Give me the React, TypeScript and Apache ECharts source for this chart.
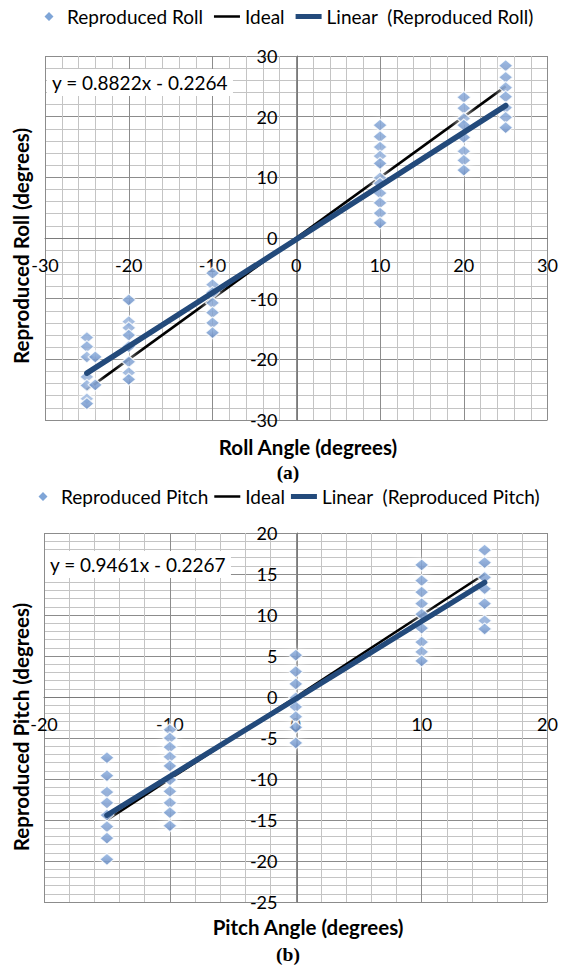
import React, { useEffect, useRef } from "react";
import * as echarts from "echarts";

// ---- Roll data (Reproduced Roll vs Roll Angle) ----
const rollX = [
  -25, -25, -25, -25, -25, -25, -25,
  -24, -24,
  -20, -20, -20, -20, -20, -20, -20, -20,
  -10, -10, -10, -10, -10, -10, -10,
  10, 10, 10, 10, 10, 10, 10, 10, 10, 10, 10,
  20, 20, 20, 20, 20, 20, 20, 20,
  25, 25, 25, 25, 25, 25, 25,
];
const rollY = [
  -16.4, -17.9, -19.6, -22.9, -24.3, -26.5, -27.3,
  -19.6, -24.2,
  -10.2, -13.8, -14.8, -16.0, -17.9, -20.4, -22.2, -23.3,
  -5.8, -7.7, -9.0, -10.7, -12.3, -14.0, -15.6,
  18.6, 16.7, 15.0, 13.5, 12.3, 9.9, 9.0, 7.4, 5.8, 4.1, 2.5,
  23.2, 21.4, 19.7, 18.6, 16.6, 14.3, 12.8, 11.2,
  28.4, 26.5, 24.8, 23.3, 21.5, 19.9, 18.2,
];
const rollSlope = 0.8822;
const rollIntercept = -0.2264;
const rollIdealRange = [-25, 25];

// ---- Pitch data (Reproduced Pitch vs Pitch Angle) ----
const pitchX = [
  -15, -15, -15, -15, -15, -15, -15, -15,
  -10, -10, -10, -10, -10, -10, -10, -10, -10, -10,
  0, 0, 0, 0, 0, 0, 0, 0,
  10, 10, 10, 10, 10, 10, 10, 10, 10,
  15, 15, 15, 15, 15, 15, 15,
];
const pitchY = [
  -7.4, -9.6, -11.6, -12.9, -14.4, -15.8, -17.2, -19.8,
  -4.0, -5.0, -6.1, -7.3, -8.4, -10.1, -11.5, -12.9, -14.1, -15.7,
  5.1, 3.1, 1.6, -0.1, -1.2, -2.4, -3.7, -5.6,
  16.1, 14.2, 12.8, 11.4, 10.1, 8.4, 6.7, 5.5, 4.4,
  17.9, 16.4, 14.6, 13.2, 11.4, 9.3, 8.3,
];
const pitchSlope = 0.9461;
const pitchIntercept = -0.2267;
const pitchIdealRange = [-15, 15];

const FONT = "Lato";
const TREND_BLUE = "#234a7b";

const iconDiamond = "path://M0,0L0.01,0M26,10L25.99,10M13,0.5L17.5,5L13,9.5L8.5,5Z";
const iconThin = "path://M0,0L0.01,0M26,10L25.99,10M0,3.8H26V6.2H0Z";
const iconThick = "path://M0,0L0.01,0M26,10L25.99,10M0,2.5H26V7.5H0Z";

// grid geometry
const G1 = { left: 45, top: 56, width: 505, height: 364 };
const G2 = { left: 44, top: 533, width: 507, height: 369 };

function pairs(xs: number[], ys: number[]) {
  return xs.map((x, i) => [x, ys[i]]);
}
function trend(xs: number[], m: number, b: number) {
  const lo = Math.min(...xs);
  const hi = Math.max(...xs);
  return [
    [lo, m * lo + b],
    [hi, m * hi + b],
  ];
}

const markerStyle = {
  color: new echarts.graphic.LinearGradient(0, 0, 0, 1, [
    { offset: 0, color: "#86ade0" },
    { offset: 1, color: "#4778ba" },
  ]),
  borderColor: "#ffffff",
  borderWidth: 1.2,
  shadowColor: "rgba(255,255,255,1)",
  shadowBlur: 10,
};

function axisCommon(min: number, max: number, interval: number, offset: number) {
  return {
    type: "value" as const,
    min,
    max,
    interval,
    offset,
    minorTick: { show: false, splitNumber: 5 },
    minorSplitLine: { show: true, lineStyle: { color: "#c4c4c4", width: 1 } },
    splitLine: { show: true, lineStyle: { color: "#8c8c8c", width: 1 } },
    axisLine: { show: true, onZero: false, lineStyle: { color: "#7a7a7a", width: 1 } },
    axisTick: { show: false },
  };
}

// offsets that place each axis line on the other axis' zero
const x1Offset = -(G1.height * (0 - -30)) / 60; // x-axis at y = 0
const y1Offset = -(G1.width * (0 - -30)) / 60; // y-axis at x = 0
const x2Offset = -(G2.height * (0 - -25)) / 45;
const y2Offset = -(G2.width * (0 - -20)) / 40;

export default function App() {
  const ref = useRef<HTMLDivElement>(null);

  useEffect(() => {
    if (!ref.current) return;
    const chart = echarts.init(ref.current, undefined, { renderer: "svg" });

    const labelStyle = { fontFamily: FONT, fontSize: 18, color: "#000" };
    const legendText = { fontFamily: FONT, fontSize: 19, color: "#000" };
    const titleStyle = {
      fontFamily: FONT,
      fontSize: 20.5,
      fontWeight: "bold",
      fill: "#000",
      align: "center",
      verticalAlign: "middle",
    };

    const option: any = {
      animation: false,
      backgroundColor: "#fff",
      textStyle: { fontFamily: FONT },
      grid: [
        { ...G1, show: false },
        { ...G2, show: false },
      ],
      xAxis: [
        {
          ...axisCommon(-30, 30, 10, x1Offset),
          gridIndex: 0,
          axisLabel: { ...labelStyle, margin: 18, showMinLabel: true, showMaxLabel: true },
        },
        {
          ...axisCommon(-20, 20, 10, x2Offset),
          gridIndex: 1,
          axisLabel: { ...labelStyle, margin: 18, showMinLabel: true, showMaxLabel: true },
        },
      ],
      yAxis: [
        {
          ...axisCommon(-30, 30, 10, y1Offset),
          gridIndex: 0,
          axisLabel: { ...labelStyle, margin: 20, showMinLabel: true, showMaxLabel: true },
        },
        {
          ...axisCommon(-25, 20, 5, y2Offset),
          gridIndex: 1,
          axisLabel: { ...labelStyle, margin: 20, showMinLabel: true, showMaxLabel: true },
        },
      ],
      legend: [
        {
          left: 36,
          top: 7,
          padding: 0,
          itemWidth: 26,
          itemHeight: 10,
          itemGap: 11,
          symbolKeepAspect: false,
          textStyle: legendText,
          itemStyle: { borderWidth: 0 },
          data: [
            { name: "Reproduced Roll", icon: iconDiamond, itemStyle: { color: "#5f8fcd", borderWidth: 0 } },
            { name: "Ideal", icon: iconThin, itemStyle: { color: "#000", borderWidth: 0 } },
            { name: "Linear  (Reproduced Roll)", icon: iconThick, itemStyle: { color: TREND_BLUE, borderWidth: 0 } },
          ],
        },
        {
          left: 30,
          top: 487,
          padding: 0,
          itemWidth: 26,
          itemHeight: 10,
          itemGap: 6,
          symbolKeepAspect: false,
          textStyle: legendText,
          itemStyle: { borderWidth: 0 },
          data: [
            { name: "Reproduced Pitch", icon: iconDiamond, itemStyle: { color: "#5f8fcd", borderWidth: 0 } },
            { name: "Ideal", icon: iconThin, itemStyle: { color: "#000", borderWidth: 0 } },
            { name: "Linear  (Reproduced Pitch)", icon: iconThick, itemStyle: { color: TREND_BLUE, borderWidth: 0 } },
          ],
        },
      ],
      series: [
        {
          name: "Ideal",
          type: "line",
          xAxisIndex: 0,
          yAxisIndex: 0,
          data: rollIdealRange.map((v) => [v, v]),
          symbol: "none",
          color: "#000",
          lineStyle: { color: "#000", width: 2.6 },
          z: 2,
        },
        {
          name: "Reproduced Roll",
          type: "scatter",
          xAxisIndex: 0,
          yAxisIndex: 0,
          data: pairs(rollX, rollY),
          symbol: "diamond",
          symbolSize: [14, 12],
          itemStyle: markerStyle,
          z: 3,
        },
        {
          name: "Linear  (Reproduced Roll)",
          type: "line",
          xAxisIndex: 0,
          yAxisIndex: 0,
          data: trend(rollX, rollSlope, rollIntercept),
          symbol: "none",
          color: TREND_BLUE,
          lineStyle: { color: TREND_BLUE, width: 5.5, cap: "round" },
          z: 4,
        },
        {
          name: "Ideal",
          type: "line",
          xAxisIndex: 1,
          yAxisIndex: 1,
          data: pitchIdealRange.map((v) => [v, v]),
          symbol: "none",
          color: "#000",
          lineStyle: { color: "#000", width: 2.6 },
          z: 2,
        },
        {
          name: "Reproduced Pitch",
          type: "scatter",
          xAxisIndex: 1,
          yAxisIndex: 1,
          data: pairs(pitchX, pitchY),
          symbol: "diamond",
          symbolSize: [14, 12],
          itemStyle: markerStyle,
          z: 3,
        },
        {
          name: "Linear  (Reproduced Pitch)",
          type: "line",
          xAxisIndex: 1,
          yAxisIndex: 1,
          data: trend(pitchX, pitchSlope, pitchIntercept),
          symbol: "none",
          color: TREND_BLUE,
          lineStyle: { color: TREND_BLUE, width: 5.5, cap: "round" },
          z: 4,
        },
      ],
      graphic: [
        {
          type: "text",
          x: 47,
          y: 69,
          z: 10,
          style: {
            text: "y = 0.8822x - 0.2264",
            fontFamily: FONT,
            fontSize: 19,
            fill: "#000",
            backgroundColor: "#fff",
            padding: [4, 5, 4, 5],
          },
        },
        {
          type: "text",
          x: 45,
          y: 551,
          z: 10,
          style: {
            text: "y = 0.9461x - 0.2267",
            fontFamily: FONT,
            fontSize: 19,
            fill: "#000",
            backgroundColor: "#fff",
            padding: [4, 5, 4, 5],
          },
        },
        {
          type: "text",
          x: 21,
          y: 246,
          rotation: Math.PI / 2,
          style: { ...titleStyle, text: "Reproduced Roll (degrees)" },
        },
        {
          type: "text",
          x: 21,
          y: 727,
          rotation: Math.PI / 2,
          style: { ...titleStyle, text: "Reproduced Pitch (degrees)" },
        },
        {
          type: "text",
          x: 308,
          y: 447,
          style: { ...titleStyle, text: "Roll Angle (degrees)" },
        },
        {
          type: "text",
          x: 308,
          y: 927,
          style: { ...titleStyle, text: "Pitch Angle (degrees)" },
        },
        {
          type: "text",
          x: 288,
          y: 472,
          style: { ...titleStyle, fontFamily: "Liberation Serif", fontSize: 19.5, text: "(a)" },
        },
        {
          type: "text",
          x: 288,
          y: 954,
          style: { ...titleStyle, fontFamily: "Liberation Serif", fontSize: 19.5, text: "(b)" },
        },
      ],
    };

    chart.setOption(option);
    return () => chart.dispose();
  }, []);

  return (
    <div
      ref={ref}
      style={{ position: "absolute", left: 0, top: 0, width: 561, height: 967, background: "#fff" }}
    />
  );
}
